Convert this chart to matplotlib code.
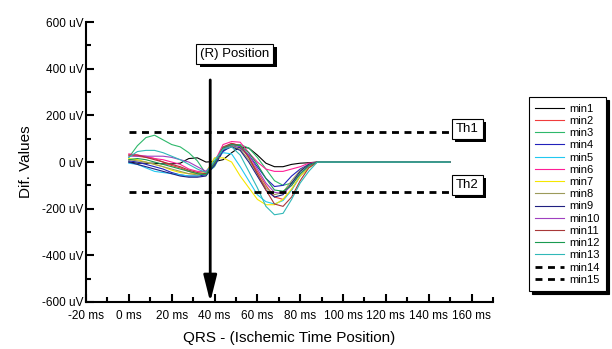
import numpy as np
import matplotlib
matplotlib.use("Agg")
import matplotlib.pyplot as plt
from matplotlib import patheffects as pe
from matplotlib.ticker import MultipleLocator

plt.rcParams['font.family'] = ['Liberation Sans', 'DejaVu Sans']

# ---------------------------------
# Data (ms, uV)
# ---------------------------------
t = [0, 4, 8, 12, 16, 20, 24, 28, 32, 36, 40, 44, 48, 52, 56, 60, 64, 68, 72, 76, 80, 84, 88, 150]

min1 = [0, -5, -5, -5, -8, -8, -5, 15, 18, 0, 2, 10, 40, 65, 60, 30, -5, -20, -20, -10, -5, -3, 0, 0]
min2 = [30, 25, 20, 15, 0, -15, -25, -40, -50, -50, -10, 60, 80, 70, 20, -40, -100, -150, -160, -120, -60, -20, 0, 0]
min3 = [20, 70, 105, 115, 95, 75, 65, 40, 5, -50, -20, 50, 75, 75, 60, 20, -30, -80, -100, -90, -50, -15, 0, 0]
min4 = [5, 0, -10, -20, -30, -45, -55, -60, -60, -55, -15, 45, 70, 60, 30, -20, -70, -105, -100, -60, -30, -10, 0, 0]
min5 = [-5, -10, -25, -40, -45, -50, -55, -60, -60, -45, 15, 40, 35, -20, -80, -140, -170, -180, -165, -120, -60, -20, 0, 0]
min6 = [35, 30, 25, 15, 10, 0, -10, -30, -40, -40, 0, 75, 88, 85, 40, 0, -30, -40, -40, -30, -20, -5, 0, 0]
min7 = [15, 10, 0, -10, -20, -35, -45, -50, -50, -45, 18, 18, 0, -60, -110, -160, -183, -183, -160, -115, -60, -25, 0, 0]
min8 = [10, 5, 0, -10, -20, -30, -40, -50, -55, -50, 0, 55, 70, 55, 10, -50, -110, -140, -130, -80, -35, -10, 0, 0]
min9 = [0, -10, -20, -30, -40, -50, -60, -65, -65, -60, -10, 50, 65, 50, 0, -60, -120, -150, -140, -90, -40, -10, 0, 0]
min10 = [25, 25, 25, 25, 25, 20, 10, 0, -20, -40, -5, 55, 75, 65, 30, -30, -90, -130, -135, -100, -50, -15, 0, 0]
min11 = [30, 30, 20, 10, 0, -10, -20, -35, -45, -50, -5, 65, 80, 70, 20, -50, -120, -180, -190, -150, -80, -25, 0, 0]
min12 = [10, 15, 10, 0, -10, -20, -30, -40, -50, -55, -5, 60, 75, 70, 40, -10, -70, -120, -125, -100, -50, -15, 0, 0]
min13 = [20, 45, 50, 50, 40, 25, 10, -10, -30, -45, 5, 55, 65, 30, -40, -110, -190, -226, -220, -160, -90, -40, 0, 0]

th_t = [0, 150]
min14 = [127, 127]
min15 = [-127, -127]

r_position = 38      # ms
arrow_top = 352      # uV

series = [min1, min2, min3, min4, min5, min6, min7, min8, min9, min10, min11, min12, min13]
names = ["min%d" % (i + 1) for i in range(15)]
colors = ['black', '#f03c3c', '#2eb86b', '#2222bb', '#22c8f0', '#ff1e96', '#f5e600',
          '#9c9a5a', '#202080', '#a040c0', '#a83838', '#1a9a50', '#30b8b8']

# ---------------------------------
# Plot
# ---------------------------------
fig = plt.figure(figsize=(6.12, 3.49), dpi=100)
ax = fig.add_axes([0.1405, 0.1347, 0.665, 0.802])

for vals, name, c in zip(series, names, colors):
    ax.plot(t, vals, color=c, lw=0.8, label=name)

for vals, name in zip([min14, min15], names[13:]):
    ax.plot(th_t, vals, color='black', lw=2, ls=(0, (2.5, 2)), label=name)

# R position arrow
ax.annotate('', xy=(r_position, -600), xytext=(r_position, arrow_top),
            arrowprops=dict(arrowstyle='-|>,head_length=1.6,head_width=0.4',
                            lw=2, color='black', shrinkA=0, shrinkB=0))

shadow = [pe.withSimplePatchShadow(offset=(2.5, -2.5), shadow_rgbFace='black', alpha=1)]
boxes = [(49.5, 464, "(R) Position", 9.5), (158, 142, "Th1", 9.5), (158, -97, "Th2", 9.5)]
for bx, by, s, fs in boxes:
    txt = ax.text(bx, by, s, fontsize=fs, ha='center', va='center',
                  bbox=dict(boxstyle='square,pad=0.3', fc='white', ec='black', lw=0.8))
    txt.get_bbox_patch().set_path_effects(shadow)

ax.set_xlim(-20, 170)
ax.set_ylim(-600, 600)
ax.xaxis.set_major_locator(MultipleLocator(20))
ax.xaxis.set_minor_locator(MultipleLocator(10))
ax.yaxis.set_major_locator(MultipleLocator(200))
ax.yaxis.set_minor_locator(MultipleLocator(100))
ax.set_xticks(range(-20, 161, 20))
ax.set_xticklabels(["%d ms" % v for v in range(-20, 161, 20)])
ax.set_yticks(range(-600, 601, 200))
ax.set_yticklabels(["%d uV" % v for v in range(-600, 601, 200)])

for side in ['top', 'right']:
    ax.spines[side].set_visible(False)
for side in ['left', 'bottom']:
    ax.spines[side].set_linewidth(1.5)
ax.tick_params(which='major', direction='in', length=6, width=1.5, labelsize=8.5)
ax.tick_params(axis='x', which='major', pad=6)
ax.tick_params(axis='y', which='major', pad=2)
ax.tick_params(which='minor', direction='in', length=3.5, width=1.5)

ax.set_xlabel("QRS - (Ischemic Time Position)", fontsize=11, labelpad=6)
ax.set_ylabel("Dif. Values", fontsize=11, labelpad=6)

leg = ax.legend(loc='upper left', bbox_to_anchor=(0.864, 0.722), bbox_transform=fig.transFigure,
                fontsize=8, frameon=True, fancybox=False, borderaxespad=0, borderpad=0.6,
                labelspacing=0.2, handlelength=2.6, handletextpad=0.45,
                shadow={'facecolor': 'black', 'edgecolor': 'black', 'alpha': 1})
leg.get_frame().set_edgecolor('black')
leg.get_frame().set_linewidth(0.8)

fig.savefig("out.png", dpi=100)
